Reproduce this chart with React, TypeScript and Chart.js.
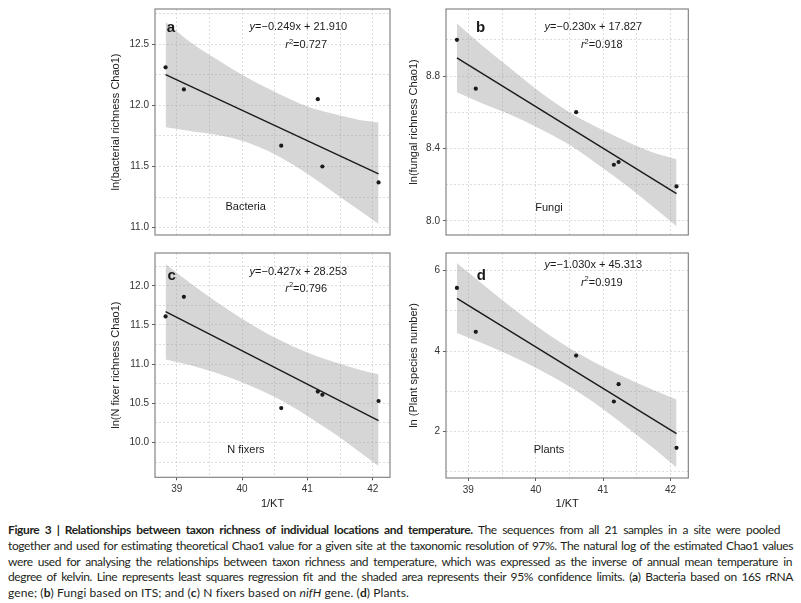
import { useEffect, useRef } from "react"
import { Chart, registerables } from "chart.js"

Chart.register(...registerables)

// 1/KT of the six sites
const siteKT = [38.83, 39.11, 40.6, 41.16, 41.23, 42.09]
const bandKT = [38.83, 39.2, 39.6, 40.0, 40.5, 41.0, 41.4, 41.8, 42.09]
const fitKT = [38.83, 42.09]

const bacteriaLn = [12.31, 12.13, 11.67, 12.05, 11.5, 11.37]
const bacteriaFit = [12.25, 11.44]
const bacteriaUpper = [12.68, 12.52, 12.38, 12.25, 12.11, 11.99, 11.93, 11.88, 11.86]
const bacteriaLower = [11.82, 11.79, 11.76, 11.71, 11.6, 11.44, 11.29, 11.14, 11.03]

const fungiLn = [9.0, 8.73, 8.6, 8.31, 8.325, 8.19]
const fungiFit = [8.9, 8.15]
const fungiUpper = [9.09, 8.97, 8.85, 8.73, 8.6, 8.5, 8.43, 8.37, 8.34]
const fungiLower = [8.71, 8.65, 8.59, 8.52, 8.42, 8.29, 8.18, 8.06, 7.97]

const nFixerLn = [11.61, 11.86, 10.44, 10.65, 10.61, 10.53]
const nFixerFit = [11.67, 10.28]
const nFixerUpper = [12.28, 12.04, 11.8, 11.58, 11.34, 11.15, 11.03, 10.93, 10.87]
const nFixerLower = [11.06, 10.99, 10.89, 10.77, 10.58, 10.34, 10.12, 9.88, 9.7]

const plantLn = [5.57, 4.48, 3.89, 2.75, 3.18, 1.6]
const plantFit = [5.31, 1.95]
const plantUpper = [6.19, 5.68, 5.14, 4.64, 4.08, 3.61, 3.29, 3.0, 2.8]
const plantLower = [4.45, 4.2, 3.91, 3.59, 3.12, 2.56, 2.05, 1.52, 1.11]

const xTicks = [39, 40, 41, 42]
const xMinor = [39.5, 40.5, 41.5]
const bacteriaTicks = [11.0, 11.5, 12.0, 12.5]
const bacteriaMinor = [11.25, 11.75, 12.25, 12.75]
const fungiTicks = [8.0, 8.4, 8.8]
const fungiMinor = [8.2, 8.6, 9.0]
const nFixerTicks = [10.0, 10.5, 11.0, 11.5, 12.0]
const nFixerMinor = [9.75, 10.25, 10.75, 11.25, 11.75, 12.25]
const plantTicks = [2, 4, 6]
const plantMinor = [1, 3, 5]

const FONT = "'Liberation Sans', Arial, Helvetica, sans-serif"

type Panel = {
  key: string
  letter: string
  label: string
  yTitle: string
  slope: string
  intercept: string
  r2: string
  values: number[]
  fit: number[]
  upper: number[]
  lower: number[]
  yTicks: number[]
  yMinor: number[]
  decimals: number
  yMin: number
  yMax: number
  showX: boolean
  box: { left: number; top: number; width: number; height: number }
  yAxisWidth: number
  xAxisHeight: number
  pad: { top: number; right: number; bottom: number }
  // text anchors as fractions of the plot area (x centre, baseline)
  at: { letter: number[]; eq: number[]; r2: number[]; label: number[] }
}

const panels: Panel[] = [
  {
    key: "a", letter: "a", label: "Bacteria", yTitle: "ln(bacterial richness Chao1)",
    slope: "0.249", intercept: "21.910", r2: "0.727",
    values: bacteriaLn, fit: bacteriaFit, upper: bacteriaUpper, lower: bacteriaLower,
    yTicks: bacteriaTicks, yMinor: bacteriaMinor, decimals: 1, yMin: 10.94, yMax: 12.787, showX: false,
    box: { left: 100, top: 0, width: 298, height: 244 }, yAxisWidth: 55, xAxisHeight: 0,
    pad: { top: 6, right: 8, bottom: 3.3 },
    at: { letter: [0.068, 0.102], eq: [0.61, 0.095], r2: [0.643, 0.173], label: [0.386, 0.89] },
  },
  {
    key: "b", letter: "b", label: "Fungi", yTitle: "ln(fungal richness Chao1)",
    slope: "0.230", intercept: "17.827", r2: "0.918",
    values: fungiLn, fit: fungiFit, upper: fungiUpper, lower: fungiLower,
    yTicks: fungiTicks, yMinor: fungiMinor, decimals: 1, yMin: 7.922, yMax: 9.17, showX: false,
    box: { left: 398, top: 0, width: 302, height: 244 }, yAxisWidth: 48, xAxisHeight: 0,
    pad: { top: 6, right: 11.7, bottom: 3.3 },
    at: { letter: [0.143, 0.102], eq: [0.608, 0.095], r2: [0.643, 0.173], label: [0.425, 0.893] },
  },
  {
    key: "c", letter: "c", label: "N fixers", yTitle: "ln(N fixer richness Chao1)",
    slope: "0.427", intercept: "28.253", r2: "0.796",
    values: nFixerLn, fit: nFixerFit, upper: nFixerUpper, lower: nFixerLower,
    yTicks: nFixerTicks, yMinor: nFixerMinor, decimals: 1, yMin: 9.556, yMax: 12.419, showX: true,
    box: { left: 100, top: 244, width: 298, height: 267 }, yAxisWidth: 55, xAxisHeight: 33,
    pad: { top: 1, right: 8, bottom: 0.7 },
    at: { letter: [0.071, 0.122], eq: [0.61, 0.096], r2: [0.643, 0.172], label: [0.387, 0.891] },
  },
  {
    key: "d", letter: "d", label: "Plants", yTitle: "ln (Plant species number)",
    slope: "1.030", intercept: "45.313", r2: "0.919",
    values: plantLn, fit: plantFit, upper: plantUpper, lower: plantLower,
    yTicks: plantTicks, yMinor: plantMinor, decimals: 0, yMin: 0.85, yMax: 6.438, showX: true,
    box: { left: 398, top: 244, width: 302, height: 267 }, yAxisWidth: 48, xAxisHeight: 33,
    pad: { top: 1, right: 11.7, bottom: 0 },
    at: { letter: [0.146, 0.121], eq: [0.608, 0.067], r2: [0.643, 0.146], label: [0.425, 0.89] },
  },
]

const isIn = (list: number[], v: number) => list.some((t) => Math.abs(t - v) < 1e-6)

const panelDecor = {
  id: "panelDecor",
  afterDatasetsDraw(chart: any, _args: any, opts: any) {
    const p: Panel = opts.panel
    if (!p) return
    const { ctx, chartArea: a } = chart
    const w = a.right - a.left
    const h = a.bottom - a.top
    const px = (f: number) => a.left + f * w
    const py = (f: number) => a.top + f * h
    ctx.save()
    // panel frame
    ctx.strokeStyle = "#7a7a7a"
    ctx.lineWidth = 1.1
    ctx.strokeRect(a.left, a.top, w, h)

    ctx.fillStyle = "#1a1a1a"
    ctx.textBaseline = "alphabetic"
    ctx.textAlign = "center"
    ctx.font = `bold 15px ${FONT}`
    ctx.fillText(p.letter, px(p.at.letter[0]), py(p.at.letter[1]))

    ctx.font = `11px ${FONT}`
    ctx.fillText(p.label, px(p.at.label[0]), py(p.at.label[1]))

    // equation: y=−slope x + intercept
    ctx.textAlign = "left"
    const italic = `italic 11px ${FONT}`
    const normal = `11px ${FONT}`
    const rest = `=\u2212${p.slope}x + ${p.intercept}`
    ctx.font = italic
    const wy = ctx.measureText("y").width
    ctx.font = normal
    const wr = ctx.measureText(rest).width
    let x = px(p.at.eq[0]) - (wy + wr) / 2
    const ey = py(p.at.eq[1])
    ctx.font = italic
    ctx.fillText("y", x, ey)
    ctx.font = normal
    ctx.fillText(rest, x + wy, ey)

    // r²
    const r2rest = `=${p.r2}`
    ctx.font = italic
    const wrr = ctx.measureText("r").width
    ctx.font = `7.5px ${FONT}`
    const w2 = ctx.measureText("2").width
    ctx.font = normal
    const wv = ctx.measureText(r2rest).width
    x = px(p.at.r2[0]) - (wrr + w2 + wv) / 2
    const ry = py(p.at.r2[1])
    ctx.font = italic
    ctx.fillText("r", x, ry)
    ctx.font = `7.5px ${FONT}`
    ctx.fillText("2", x + wrr, ry - 4.5)
    ctx.font = normal
    ctx.fillText(r2rest, x + wrr + w2, ry)
    ctx.restore()
  },
}

function PanelChart({ panel }: { panel: Panel }) {
  const canvasRef = useRef<HTMLCanvasElement>(null)

  useEffect(() => {
    if (!canvasRef.current) return
    const xAll = [...xTicks, ...xMinor].sort((m, n) => m - n)
    const yAll = [...panel.yTicks, ...panel.yMinor].sort((m, n) => m - n)
    const gridColor = "#d4d4d4"

    const chart = new Chart(canvasRef.current, {
      type: "scatter",
      data: {
        datasets: [
          {
            data: bandKT.map((k, i) => ({ x: k, y: panel.upper[i] })),
            showLine: true,
            borderWidth: 0,
            pointRadius: 0,
            backgroundColor: "rgba(153,153,153,0.4)",
            fill: "+1",
            cubicInterpolationMode: "monotone",
            order: 4,
          },
          {
            data: bandKT.map((k, i) => ({ x: k, y: panel.lower[i] })),
            showLine: true,
            borderWidth: 0,
            pointRadius: 0,
            fill: false,
            cubicInterpolationMode: "monotone",
            order: 3,
          },
          {
            data: fitKT.map((k, i) => ({ x: k, y: panel.fit[i] })),
            showLine: true,
            borderColor: "#1a1a1a",
            borderWidth: 1.4,
            pointRadius: 0,
            order: 2,
          },
          {
            data: siteKT.map((k, i) => ({ x: k, y: panel.values[i] })),
            pointRadius: 2.1,
            pointBackgroundColor: "#1a1a1a",
            pointBorderWidth: 0,
            order: 1,
          },
        ],
      } as any,
      options: {
        animation: false,
        responsive: false,
        events: [],
        layout: { padding: { left: 0, top: panel.pad.top, right: panel.pad.right, bottom: panel.pad.bottom } },
        plugins: {
          legend: { display: false },
          tooltip: { enabled: false },
          panelDecor: { panel },
        } as any,
        scales: {
          x: {
            type: "linear",
            min: 38.668,
            max: 42.265,
            afterBuildTicks: (s: any) => {
              s.ticks = xAll.map((v) => ({ value: v }))
            },
            afterFit: (s: any) => {
              s.height = panel.xAxisHeight
            },
            border: { display: false, dash: [2, 2] },
            grid: {
              color: gridColor,
              lineWidth: 0.8,
              drawTicks: panel.showX,
              tickLength: 3,
              tickWidth: 0.8,
              tickColor: (c: any) => (isIn(xTicks, c.tick?.value) ? "#333" : "rgba(0,0,0,0)"),
            },
            ticks: {
              display: panel.showX,
              autoSkip: false,
              maxRotation: 0,
              padding: 3,
              color: "#333",
              font: { family: FONT, size: 10 },
              callback: (v: any) => (isIn(xTicks, Number(v)) ? String(v) : ""),
            },
            title: {
              display: panel.showX,
              text: "1/KT",
              color: "#1a1a1a",
              font: { family: FONT, size: 11 },
              padding: { top: 0, bottom: 0 },
            },
          },
          y: {
            type: "linear",
            min: panel.yMin,
            max: panel.yMax,
            afterBuildTicks: (s: any) => {
              s.ticks = yAll.map((v) => ({ value: v }))
            },
            afterFit: (s: any) => {
              s.width = panel.yAxisWidth
            },
            border: { display: false, dash: [2, 2] },
            grid: {
              color: gridColor,
              lineWidth: 0.8,
              tickLength: 3,
              tickWidth: 0.8,
              tickColor: (c: any) => (isIn(panel.yTicks, c.tick?.value) ? "#333" : "rgba(0,0,0,0)"),
            },
            ticks: {
              autoSkip: false,
              padding: 3,
              color: "#333",
              font: { family: FONT, size: 10 },
              callback: (v: any) =>
                isIn(panel.yTicks, Number(v)) ? Number(v).toFixed(panel.decimals) : "",
            },
            title: {
              display: true,
              text: panel.yTitle,
              color: "#1a1a1a",
              font: { family: FONT, size: 11 },
              padding: { top: 9.4, bottom: 0 },
            },
          },
        },
      },
      plugins: [panelDecor],
    })

    return () => {
      chart.destroy()
    }
  }, [panel])

  return (
    <canvas
      ref={canvasRef}
      width={panel.box.width}
      height={panel.box.height}
      style={{
        position: "absolute",
        left: panel.box.left,
        top: panel.box.top,
        width: panel.box.width,
        height: panel.box.height,
      }}
    />
  )
}

const captionLines = [
  <>
    <b>Figure 3 | Relationships between taxon richness of individual locations and temperature.</b> The
    sequences from all 21 samples in a site were pooled
  </>,
  <>
    together and used for estimating theoretical Chao1 value for a given site at the taxonomic resolution of
    97%. The natural log of the estimated Chao1 values
  </>,
  <>
    were used for analysing the relationships between taxon richness and temperature, which was expressed as
    the inverse of annual mean temperature in
  </>,
  <>
    degree of kelvin. Line represents least squares regression fit and the shaded area represents their 95%
    confidence limits. (<b>a</b>) Bacteria based on 16S rRNA
  </>,
  <>
    gene; (<b>b</b>) Fungi based on ITS; and (<b>c</b>) N fixers based on <i>nifH</i> gene. (<b>d</b>) Plants.
  </>,
]
const captionWidths = [772, 785, 784, 785, 0]

export default function App() {
  return (
    <div
      style={{
        position: "absolute",
        left: 0,
        top: 0,
        width: 801,
        height: 603,
        background: "#fff",
        overflow: "hidden",
      }}
    >
      {panels.map((p) => (
        <PanelChart key={p.key} panel={p} />
      ))}
      <div
        style={{
          position: "absolute",
          left: 8,
          top: 522,
          fontFamily: "Lato, 'Open Sans', sans-serif",
          fontSize: 12,
          lineHeight: "15.8px",
          color: "#231f20",
        }}
      >
        {captionLines.map((line, i) => (
          <div
            key={i}
            style={{
              width: captionWidths[i] || undefined,
              whiteSpace: captionWidths[i] ? "normal" : "nowrap",
              letterSpacing: captionWidths[i] ? "-0.38px" : "0.1px",
              textAlign: "justify",
              textAlignLast: captionWidths[i] ? "justify" : "left",
            }}
          >
            {line}
          </div>
        ))}
      </div>
    </div>
  )
}
